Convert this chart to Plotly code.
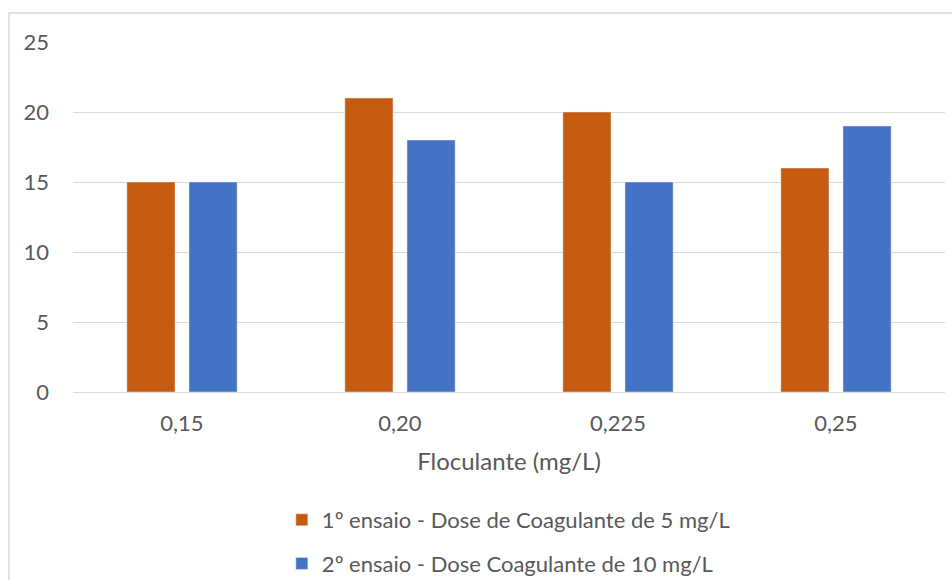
import plotly.graph_objects as go

# Floculante doses (x categories) and measured values per trial
categorias = ["0,15", "0,20", "0,225", "0,25"]
ensaio1 = [15, 21, 20, 16]
ensaio2 = [15, 18, 15, 19]
nome1 = "1º ensaio - Dose de Coagulante de 5 mg/L"
nome2 = "2º ensaio - Dose Coagulante de 10 mg/L"
y_ticks = [0, 5, 10, 15, 20, 25]

W, H = 952, 580
L, R, T, B = 73, 7, 42, 188
pw, ph = W - L - R, H - T - B

def px_x(p):
    return (p - L) / pw

def px_y(p):
    return (H - B - p) / ph

fig = go.Figure()
fig.add_trace(go.Bar(x=categorias, y=ensaio1, name=nome1, marker_color="#C55A11",
                     legendgroup="a"))
fig.add_trace(go.Bar(x=categorias, y=ensaio2, name=nome2, marker_color="#4472C4",
                     legendgroup="b"))

font_main = "Lato, 'Open Sans', sans-serif"
fig.update_layout(
    width=W, height=H,
    margin=dict(l=L, r=R, t=T, b=B, autoexpand=False),
    paper_bgcolor="white", plot_bgcolor="white",
    barmode="group", bargap=0.43, bargroupgap=0.225,
    font=dict(family=font_main, color="#595959", size=22),
    showlegend=True,
    legend=dict(orientation="v", x=0.534, xanchor="center", xref="container",
                y=1 - 499 / H, yanchor="top", yref="container",
                font=dict(size=22, color="#595959"), tracegroupgap=12,
                bgcolor="rgba(0,0,0,0)"),
    xaxis=dict(showgrid=False, showline=False, ticks="", tickfont=dict(size=22),
               automargin=False, ticklabelstandoff=16,
               title=dict(text="Floculante (mg/L)", font=dict(size=24), standoff=18)),
    yaxis=dict(range=[0, 25], tickvals=y_ticks, showgrid=True, gridcolor="#D9D9D9",
               gridwidth=1, zeroline=True, zerolinecolor="#D9D9D9", zerolinewidth=1,
               showline=False, ticks="", tickfont=dict(size=22), ticklabelstandoff=23,
               automargin=False),
    shapes=[dict(type="rect", xref="paper", yref="paper",
                 x0=px_x(9), x1=px_x(1000), y0=px_y(700), y1=px_y(13),
                 line=dict(color="#D9D9D9", width=1.5), fillcolor="rgba(0,0,0,0)",
                 layer="below")],
)

fig.write_html("out.html")
